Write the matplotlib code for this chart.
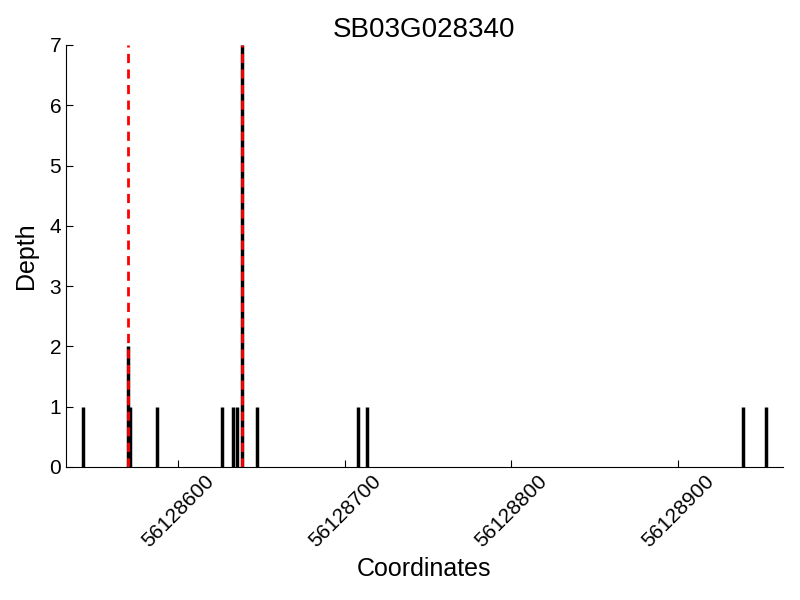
import numpy as np
import matplotlib
matplotlib.use("Agg")
import matplotlib.pyplot as plt

plt.rcParams['font.family'] = ['Liberation Sans', 'DejaVu Sans']

# read-depth positions and values
positions = [56128543, 56128570, 56128571, 56128587, 56128626, 56128633,
             56128635, 56128638, 56128647, 56128708, 56128713, 56128939,
             56128953]
depths = [1, 2, 1, 1, 1, 1, 1, 7, 1, 1, 1, 1, 1]
marks = [56128570, 56128638]
xticks = [56128600, 56128700, 56128800, 56128900]

fig = plt.figure(figsize=(8, 6), dpi=100)
ax = fig.add_axes([0.0825, 0.222, 0.896, 0.703])

ax.vlines(positions, 0, depths, colors='black', linewidth=2.5)
for m in marks:
    ax.axvline(m, color='red', linestyle='--', linewidth=2, dashes=(3.3, 2.3))

ax.set_xlim(56128532.5, 56128963)
ax.set_ylim(0, 7)
ax.set_xticks(xticks)
ax.set_xticklabels([str(t) for t in xticks], rotation=45, fontsize=15)
ax.set_yticks(range(8))
ax.tick_params(axis='y', labelsize=15)
ax.tick_params(direction='in', length=5)
ax.spines['top'].set_visible(False)
ax.spines['right'].set_visible(False)

ax.set_title("SB03G028340", fontsize=20)
ax.set_xlabel("Coordinates", fontsize=18)
ax.set_ylabel("Depth", fontsize=18, labelpad=8)

fig.savefig("out.png", dpi=100)
